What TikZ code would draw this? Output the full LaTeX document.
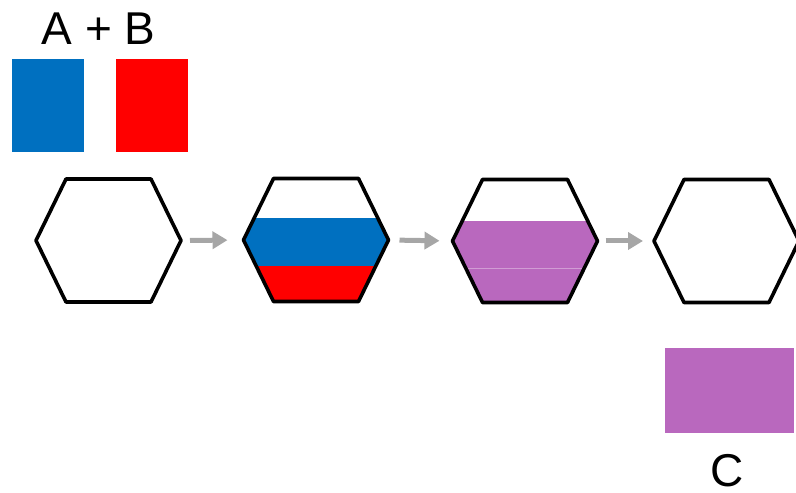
\documentclass[tikz,border=0pt]{standalone}
\usepackage{fontspec}
\setmainfont{Liberation Sans}
\usetikzlibrary{arrows.meta,calc}
\definecolor{cblue}{HTML}{0070C0}
\definecolor{cred}{HTML}{FF0000}
\definecolor{cpurple}{HTML}{B968BE}
\definecolor{cgray}{HTML}{A6A6A6}
\begin{document}
\begin{tikzpicture}[x=1pt,y=1pt,
  hexbox/.style={minimum width=145pt,minimum height=123pt,inner sep=0pt,outer sep=0pt,draw=none},
  hexline/.style={line width=3.6pt,line join=round},
  flow/.style={draw=cgray,line width=5pt,-{Triangle[length=15pt,width=17pt]}},
  lab/.style={font=\fontsize{46}{52}\selectfont,inner sep=0pt,anchor=base}]
\useasboundingbox (0,0) rectangle (796,493);
% source rectangles
\fill[cblue] (12,341) rectangle (84,434);
\fill[cred] (116,341) rectangle (188,434);
\node[lab] (ab) at (98.5,448) {A + B};
% hexagon boxes
\node[hexbox] (h1) at (108.5,252.5) {};
\node[hexbox] (h2) at (316,253) {};
\node[hexbox] (h3) at (525,252) {};
\node[hexbox] (h4) at (726.5,252) {};
\newcommand{\hexpath}[1]{(#1.west) -- ($(#1.north west)+(30,0)$) -- ($(#1.north east)+(-30,0)$) -- (#1.east) -- ($(#1.south east)+(-30,0)$) -- ($(#1.south west)+(30,0)$) -- cycle}
% fills
\begin{scope}
\clip \hexpath{h2};
\fill[cblue] ($(h2.west)+(0,-26)$) rectangle ($(h2.east)+(0,22)$);
\fill[cred] ($(h2.south west)+(0,0)$) rectangle ($(h2.east)+(0,-26)$);
\end{scope}
\begin{scope}
\clip \hexpath{h3};
\fill[cpurple] (h3.south west) rectangle ($(h3.east)+(0,20)$);
\draw[white,opacity=0.35,line width=0.6pt] ($(h3.west)+(0,-27)$) -- ($(h3.east)+(0,-27)$);
\end{scope}
\foreach \h in {h1,h2,h3,h4} {\draw[hexline] \hexpath{\h};}
% arrows
\draw[flow,shorten <=9pt,shorten >=16pt] (h1.east) -- (h2.west);
\draw[flow,shorten <=11pt,shorten >=13pt] (h2.east) -- (h3.west);
\draw[flow,shorten <=8pt,shorten >=11pt] (h3.east) -- (h4.west);
% product
\fill[cpurple] (665,60) rectangle (794,145);
\node[lab] (c) at (727,6.5) {C};
\end{tikzpicture}
\end{document}
